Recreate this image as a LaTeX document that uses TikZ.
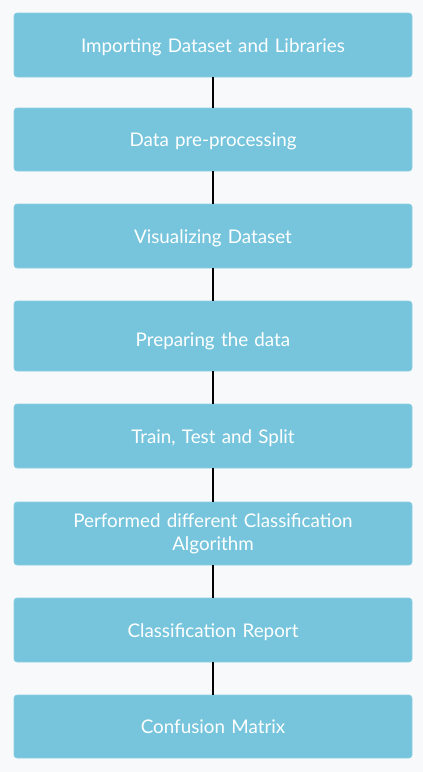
\documentclass[tikz,border=0pt]{standalone}
\usepackage{fontspec}
\setmainfont{Lato}
\definecolor{pagebg}{HTML}{F8F9FB}
\definecolor{stepfill}{HTML}{76C5DD}
\definecolor{stepedge}{HTML}{8DD0E4}
\begin{document}
\begin{tikzpicture}[x=1pt,y=-1pt,
  stepbox/.style={draw=stepedge, line width=0.6pt, fill=stepfill, rounded corners=3pt,
    minimum width=398pt, text width=380pt, align=center, inner sep=0pt,
    text=white, font=\fontsize{18.8}{23.3}\selectfont},
  oneline/.style={text height=14.6pt, text depth=0pt},
  link/.style={draw=black, line width=2pt}]
  % page background
  \fill[pagebg] (0,0) rectangle (423,772);
  \useasboundingbox (0,0) rectangle (423,772);

  % process steps
  \node[stepbox, oneline, minimum height=64pt] (s1) at (213,45)    {Importing Dataset and Libraries};
  \node[stepbox, oneline, minimum height=63pt] (s2) at (213,139.5) {Data pre-processing};
  \node[stepbox, oneline, minimum height=64pt] (s3) at (213,236)   {Visualizing Dataset};
  \node[stepbox, minimum height=70pt, text height=21.4pt, text depth=0pt] (s4) at (213,336) {Preparing the data};
  \node[stepbox, oneline, minimum height=64pt] (s5) at (213,436)   {Train, Test and Split};
  \node[stepbox, minimum height=63pt] (s6) at (213,533.5) {Performed different Classification\\Algorithm};
  \node[stepbox, oneline, minimum height=64pt] (s7) at (213,630)   {Classification Report};
  \node[stepbox, oneline, minimum height=63pt] (s8) at (213,726.5) {Confusion Matrix};

  % connectors between consecutive steps
  \foreach \a/\b in {s1/s2,s2/s3,s3/s4,s4/s5,s5/s6,s6/s7,s7/s8}
    \draw[link] (\a.south) -- (\b.north);
\end{tikzpicture}
\end{document}
